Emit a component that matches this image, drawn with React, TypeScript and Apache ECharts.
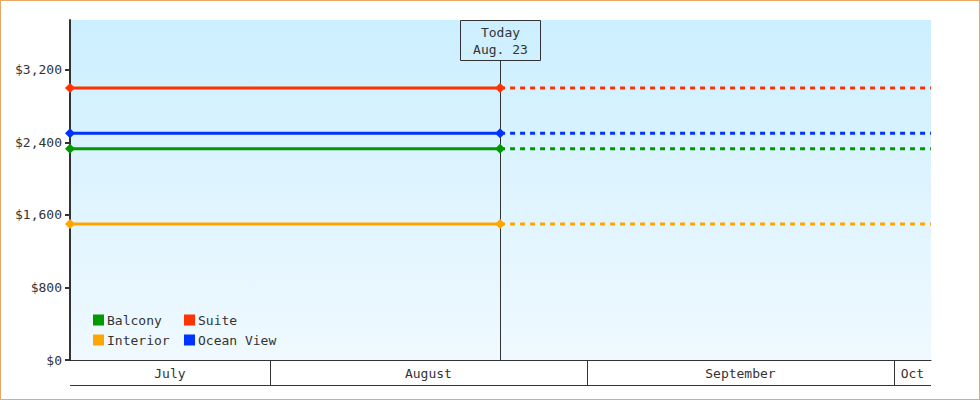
import React, { useEffect, useRef } from 'react';
import * as echarts from 'echarts';

// visible time window and the "today" marker
const rangeStart = '2024-07-12T11:00';
const rangeEnd = '2024-10-04T15:00';
const today = '2024-08-23T12:00';
const todayLabel = 'Today\nAug. 23';

// cabin prices (flat lines)
const roomTypes = ['Balcony', 'Suite', 'Interior', 'Ocean View'];
const roomPrices = [2330, 3000, 1500, 2500];
const roomColors = ['#009900', '#ff3300', '#ffa500', '#0033ff'];

// month band under the plot
const monthLabels = ['July', 'August', 'September', 'Oct'];
const monthStarts = ['2024-07-01T00:00', '2024-08-01T00:00', '2024-09-01T00:00', '2024-10-01T00:00'];
const monthEnds = ['2024-08-01T00:00', '2024-09-01T00:00', '2024-10-01T00:00', '2024-11-01T00:00'];

const yTicks = [0, 800, 1600, 2400, 3200];
const yMax = 3750;

const ts = (s: string) => new Date(s).getTime();
const FONT = '"DejaVu Sans Mono", "Liberation Mono", monospace';
const INK = '#333333';

const App: React.FC = () => {
  const chartRef = useRef<HTMLDivElement>(null);

  useEffect(() => {
    if (!chartRef.current) return;
    const chart = echarts.init(chartRef.current, null, { renderer: 'svg' });

    const t0 = ts(rangeStart);
    const t1 = ts(rangeEnd);
    const tNow = ts(today);

    const priceSeries: any[] = [];
    roomTypes.forEach((name, i) => {
      // solid part up to today
      priceSeries.push({
        name,
        type: 'line',
        z: 3,
        color: roomColors[i],
        symbol: 'diamond',
        symbolSize: 10,
        lineStyle: { width: 3, color: roomColors[i] },
        itemStyle: { color: roomColors[i] },
        data: [
          [t0, roomPrices[i]],
          [tNow, roomPrices[i]],
        ],
      });
      // dashed projection after today
      priceSeries.push({
        name,
        type: 'line',
        z: 2,
        color: roomColors[i],
        showSymbol: false,
        symbol: 'none',
        lineStyle: { width: 3, type: [5, 5], color: roomColors[i] },
        itemStyle: { color: roomColors[i] },
        data: [
          [tNow, roomPrices[i]],
          [t1, roomPrices[i]],
        ],
      });
    });

    const option: echarts.EChartsOption = {
      animation: false,
      textStyle: { fontFamily: FONT },
      grid: {
        left: 70,
        top: 20,
        right: 49,
        bottom: 40,
        show: true,
        borderWidth: 0,
        backgroundColor: new echarts.graphic.LinearGradient(0, 0, 0, 1, [
          { offset: 0, color: '#ccefff' },
          { offset: 1, color: '#f0f9ff' },
        ]),
      },
      legend: {
        left: 93,
        top: 311,
        width: 190,
        padding: 0,
        icon: 'rect',
        itemWidth: 11,
        itemHeight: 11,
        itemGap: 2,
        data: ['Balcony', 'Suite', 'Interior', 'Ocean View'],
        textStyle: {
          fontFamily: FONT,
          fontSize: 13,
          color: INK,
          width: 75,
          lineHeight: 18,
          padding: [0, 0, 0, -2],
        },
      },
      xAxis: {
        type: 'time',
        min: t0,
        max: t1,
        axisLine: { show: true, lineStyle: { color: INK, width: 1 } },
        axisTick: { show: false },
        axisLabel: { show: false },
        splitLine: { show: false },
      },
      yAxis: {
        type: 'value',
        min: 0,
        max: yMax,
        axisLine: { show: true, lineStyle: { color: INK, width: 2 } },
        axisTick: {
          show: true,
          length: 5,
          customValues: yTicks,
          lineStyle: { color: INK, width: 2 },
        },
        axisLabel: {
          customValues: yTicks,
          margin: 8,
          fontFamily: FONT,
          fontSize: 13,
          color: INK,
          formatter: (v: number) => '$' + v.toLocaleString('en-US'),
        },
        splitLine: { show: false },
      },
      series: [
        {
          type: 'custom',
          name: 'today',
          z: 1,
          silent: true,
          clip: false,
          encode: { x: 0, y: 1 },
          data: [[tNow, 0]],
          renderItem: (params: any, api: any) => {
            const cs = params.coordSys;
            const x = Math.round(api.coord([api.value(0), 0])[0]) + 0.5;
            const top = cs.y;
            const bottom = cs.y + cs.height;
            return {
              type: 'group',
              children: [
                {
                  type: 'line',
                  shape: { x1: x, y1: top + 40, x2: x, y2: bottom },
                  style: { stroke: INK, lineWidth: 1 },
                },
                {
                  type: 'rect',
                  shape: { x: x - 40, y: top + 0.5, width: 80, height: 40 },
                  style: { fill: 'none', stroke: INK, lineWidth: 1 },
                },
                {
                  type: 'text',
                  style: {
                    text: todayLabel,
                    x,
                    y: top + 20.5,
                    align: 'center',
                    verticalAlign: 'middle',
                    fontFamily: FONT,
                    fontSize: 13,
                    lineHeight: 17,
                    fill: INK,
                  },
                },
              ],
            };
          },
        },
        ...priceSeries,
        {
          type: 'custom',
          name: 'months',
          z: 4,
          silent: true,
          clip: false,
          encode: { x: [0, 1], y: 2 },
          data: monthStarts.map((s, i) => [ts(s), ts(monthEnds[i]), 0]),
          renderItem: (params: any, api: any) => {
            const cs = params.coordSys;
            const left = cs.x;
            const right = cs.x + cs.width;
            const bottom = cs.y + cs.height;
            const x1 = Math.max(api.coord([api.value(0), 0])[0], left);
            const x2 = Math.min(api.coord([api.value(1), 0])[0], right);
            if (x2 <= x1) return { type: 'group', children: [] };
            const children: any[] = [
              {
                type: 'line',
                shape: { x1, y1: bottom + 25.5, x2, y2: bottom + 25.5 },
                style: { stroke: INK, lineWidth: 1 },
              },
              {
                type: 'text',
                style: {
                  text: monthLabels[params.dataIndex],
                  x: (x1 + x2) / 2,
                  y: bottom + 13.5,
                  align: 'center',
                  verticalAlign: 'middle',
                  fontFamily: FONT,
                  fontSize: 13,
                  fill: INK,
                },
              },
            ];
            if (x1 > left + 1) {
              const sx = Math.round(x1) + 0.5;
              children.push({
                type: 'line',
                shape: { x1: sx, y1: bottom, x2: sx, y2: bottom + 25 },
                style: { stroke: INK, lineWidth: 1 },
              });
            }
            return { type: 'group', children };
          },
        },
      ],
    };

    chart.setOption(option);

    const handleResize = () => {
      chart.resize();
    };
    window.addEventListener('resize', handleResize);

    return () => {
      window.removeEventListener('resize', handleResize);
      chart.dispose();
    };
  }, []);

  return (
    <div
      style={{
        position: 'absolute',
        left: 0,
        top: 0,
        width: 980,
        height: 400,
        boxSizing: 'border-box',
        border: '1px solid #eaa865',
        background: '#ffffff',
      }}
    >
      <div
        ref={chartRef}
        style={{ position: 'absolute', left: -1, top: -1, width: 980, height: 400 }}
      />
    </div>
  );
};

export default App;
